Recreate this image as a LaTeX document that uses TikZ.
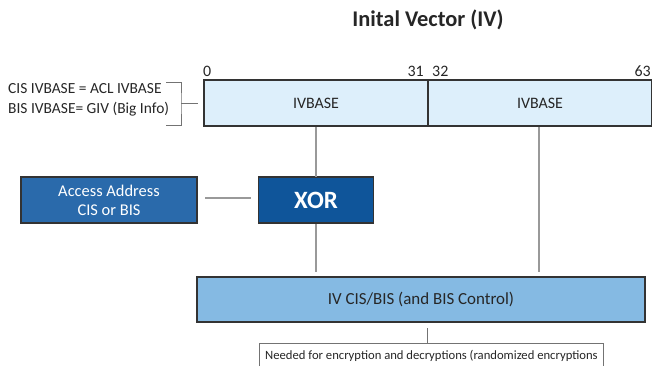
\documentclass[tikz,border=0pt]{standalone}
\usepackage{fontspec}
\setmainfont{Carlito}
\begin{document}
\begin{tikzpicture}[x=1bp,y=-1bp,
  conn/.style={draw=black!40,line width=1.4bp},
  box/.style={draw=black!80,line width=1.2bp,inner sep=0pt},
  lbl/.style={font=\fontsize{16}{18}\selectfont,text=black!85},
  brk/.style={draw=black!55,line width=0.8bp}]
\useasboundingbox (0,0) rectangle (652,366);
\definecolor{ivlight}{HTML}{DDEFFB}
\definecolor{aaBlue}{HTML}{2A6AAB}
\definecolor{xorBlue}{HTML}{0F559A}
\definecolor{ivcBlue}{HTML}{85BAE3}
% title
\node[font=\bfseries\fontsize{22.5}{24}\selectfont,text=black!85] (title) at (428,20) {Inital Vector (IV)};
% IV boxes
\node[box,fill=ivlight,minimum width=224bp,minimum height=46bp,lbl] (ivl) at (316,103) {IVBASE};
\node[box,fill=ivlight,minimum width=224bp,minimum height=46bp,lbl] (ivr) at (540,103) {IVBASE};
% bit numbers
\node[lbl,anchor=south west,inner sep=0pt] (n0) at (203,77) {0};
\node[lbl,anchor=south east,inner sep=0pt] (n31) at (424,77) {31};
\node[lbl,anchor=south west,inner sep=0pt] (n32) at (432,77) {32};
\node[lbl,anchor=south east,inner sep=0pt] (n63) at (651,77) {63};
% left note
\node[lbl,align=left,anchor=west,inner sep=0pt,font=\fontsize{15.5}{20}\selectfont] (note) at (8,100) {CIS IVBASE = ACL IVBASE\\BIS IVBASE= GIV (Big Info)};
\coordinate (bt) at (166,82);
\coordinate (bb) at (166,125);
\coordinate (bm) at (181,103);
\coordinate (bend) at (198,103);
\draw[brk] (bt) -| (bm) |- (bb);
\draw[brk] (bm) -- (bend);
% access address & XOR
\node[box,fill=aaBlue,text=white,minimum width=176bp,minimum height=46bp,align=center,font=\fontsize{16.5}{19}\selectfont] (aa) at (109,200) {Access Address\\CIS or BIS};
\node[box,fill=xorBlue,text=white,minimum width=115bp,minimum height=46bp,font=\bfseries\fontsize{25}{27}\selectfont] (xor) at (316,200) {XOR};
\coordinate (aaend) at (205,198);
\coordinate (xorend) at (251,198);
\draw[conn] (aaend) -- (xorend);
% IV CIS/BIS
\node[box,fill=ivcBlue,minimum width=448bp,minimum height=45bp,lbl,font=\fontsize{17}{19}\selectfont] (ivc) at (421,299.5) {IV CIS/BIS (and BIS Control)};
% connectors
\coordinate (c1a) at (316,127);
\coordinate (c1b) at (316,177);
\coordinate (c2a) at (316,224);
\coordinate (c2b) at (316,272);
\coordinate (c3a) at (539,127);
\coordinate (c3b) at (539,272);
\draw[conn] (c1a) -- (c1b);
\draw[conn] (c2a) -- (c2b);
\draw[conn] (c3a) -- (c3b);
% bottom bracket
\coordinate (d1) at (427,328);
\coordinate (d2) at (427,343);
\coordinate (dl) at (259,343);
\coordinate (dr) at (603,343);
\coordinate (dlb) at (259,366);
\coordinate (drb) at (603,366);
\draw[brk] (d1) -- (d2);
\draw[brk] (dlb) -- (dl) -- (dr) -- (drb);
\node[anchor=west,inner sep=0pt,font=\fontsize{12.7}{14}\selectfont,text=black!85] (need) at (265,356) {Needed for encryption and decryptions (randomized encryptions};
\end{tikzpicture}
\end{document}
